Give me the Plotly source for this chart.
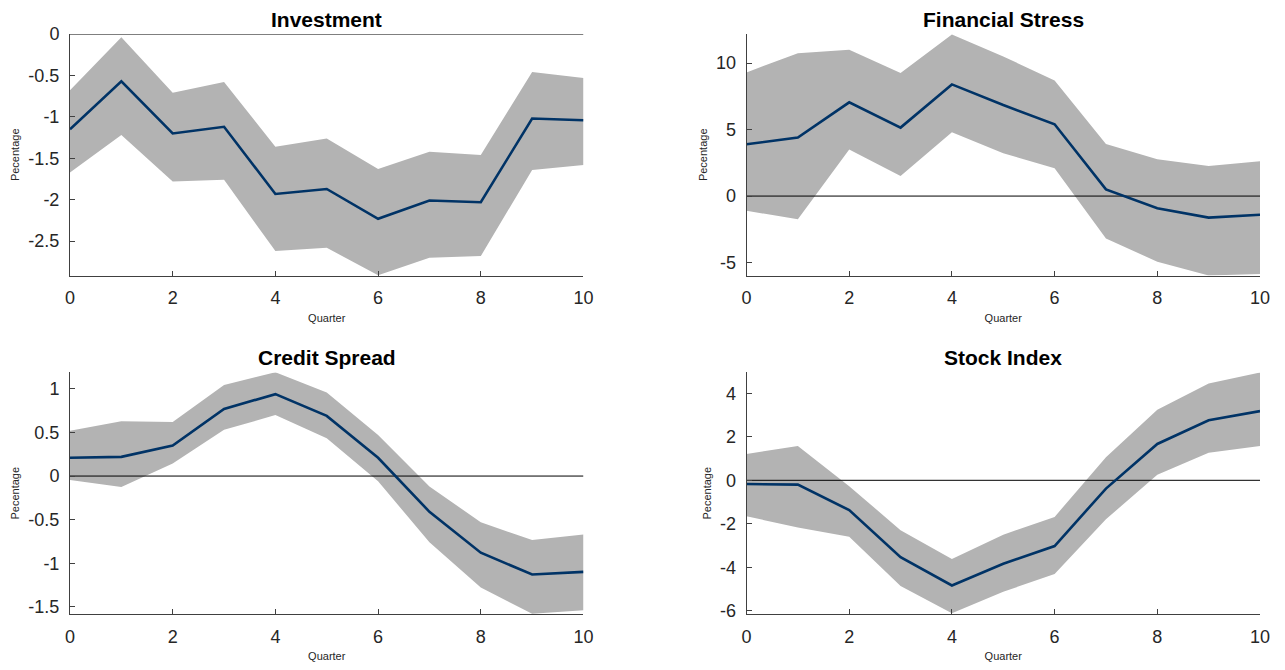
import plotly.graph_objects as go
from plotly.subplots import make_subplots

quarters = list(range(11))

titles = ["Investment", "Financial Stress", "Credit Spread", "Stock Index"]

inv_med = [-1.15, -0.57, -1.20, -1.12, -1.93, -1.87, -2.23, -2.01, -2.03, -1.02, -1.04]
inv_up = [-0.68, -0.04, -0.71, -0.58, -1.36, -1.26, -1.63, -1.42, -1.46, -0.46, -0.53]
inv_lo = [-1.67, -1.22, -1.78, -1.76, -2.62, -2.58, -2.91, -2.70, -2.68, -1.64, -1.58]

fs_med = [3.9, 4.4, 7.05, 5.15, 8.4, 6.85, 5.4, 0.5, -0.92, -1.62, -1.40]
fs_up = [9.3, 10.75, 11.0, 9.25, 12.15, 10.5, 8.7, 3.92, 2.77, 2.27, 2.62]
fs_lo = [-1.10, -1.75, 3.5, 1.5, 4.8, 3.22, 2.09, -3.19, -4.94, -5.98, -5.86]

cs_med = [0.21, 0.22, 0.35, 0.77, 0.94, 0.69, 0.21, -0.41, -0.88, -1.13, -1.10]
cs_up = [0.52, 0.63, 0.62, 1.045, 1.19, 0.96, 0.47, -0.12, -0.53, -0.735, -0.67]
cs_lo = [-0.045, -0.125, 0.145, 0.53, 0.70, 0.435, -0.06, -0.76, -1.28, -1.58, -1.54]

si_med = [-0.17, -0.20, -1.37, -3.53, -4.83, -3.83, -3.02, -0.38, 1.67, 2.76, 3.18]
si_up = [1.21, 1.58, -0.27, -2.29, -3.61, -2.50, -1.68, 1.06, 3.24, 4.45, 4.95]
si_lo = [-1.65, -2.17, -2.59, -4.85, -6.11, -5.12, -4.30, -1.79, 0.26, 1.27, 1.58]

y_ranges = [[-2.915, 0.0], [-5.98, 12.19], [-1.583, 1.189], [-6.14, 4.955]]

y_tickvals = [
    [0, -0.5, -1, -1.5, -2, -2.5],
    [10, 5, 0, -5],
    [1, 0.5, 0, -0.5, -1, -1.5],
    [4, 2, 0, -2, -4, -6],
]
y_ticktext = [
    ["0", "-0.5", "-1", "-1.5", "-2", "-2.5"],
    ["10", "5", "0", "-5"],
    ["1", "0.5", "0", "-0.5", "-1", "-1.5"],
    ["4", "2", "0", "-2", "-4", "-6"],
]
x_tickvals = [0, 2, 4, 6, 8, 10]

series = [
    (inv_med, inv_up, inv_lo),
    (fs_med, fs_up, fs_lo),
    (cs_med, cs_up, cs_lo),
    (si_med, si_up, si_lo),
]

LINE_COLOR = "#003366"
BAND_COLOR = "#b3b3b3"
AXIS_COLOR = "#404040"
TEXT_COLOR = "#262626"
FONT = "Liberation Sans, Arial, sans-serif"

fig = make_subplots(rows=2, cols=2, horizontal_spacing=0.137, vertical_spacing=0.167,
                    subplot_titles=titles)

for i, (med, up, lo) in enumerate(series):
    r, c = i // 2 + 1, i % 2 + 1
    fig.add_trace(go.Scatter(x=quarters, y=lo, mode="lines", line=dict(width=0, color=BAND_COLOR),
                             showlegend=False, hoverinfo="skip"), row=r, col=c)
    fig.add_trace(go.Scatter(x=quarters, y=up, mode="lines", line=dict(width=0, color=BAND_COLOR),
                             fill="tonexty", fillcolor=BAND_COLOR, showlegend=False,
                             hoverinfo="skip"), row=r, col=c)
    fig.add_trace(go.Scatter(x=[quarters[0], quarters[-1]], y=[0, 0], mode="lines",
                             line=dict(width=1, color="black"), showlegend=False,
                             hoverinfo="skip"), row=r, col=c)
    fig.add_trace(go.Scatter(x=quarters, y=med, mode="lines", line=dict(width=2.6, color=LINE_COLOR),
                             showlegend=False), row=r, col=c)
    fig.update_xaxes(range=[0, 10], tickvals=x_tickvals, ticks="inside", ticklen=5,
                     tickcolor=AXIS_COLOR, showline=True, linecolor=AXIS_COLOR, linewidth=1,
                     showgrid=False, zeroline=False, automargin=False, ticklabelstandoff=6,
                     tickfont=dict(size=18, color=TEXT_COLOR, family=FONT),
                     title=dict(text="Quarter", font=dict(size=11, color=TEXT_COLOR, family=FONT), standoff=7),
                     row=r, col=c)
    fig.update_yaxes(range=y_ranges[i], tickvals=y_tickvals[i], ticktext=y_ticktext[i],
                     ticks="inside", ticklen=5, tickcolor=AXIS_COLOR, showline=True,
                     linecolor=AXIS_COLOR, linewidth=1, showgrid=False, zeroline=False,
                     automargin=False, ticklabelstandoff=6,
                     tickfont=dict(size=18, color=TEXT_COLOR, family=FONT),
                     title=dict(text="Pecentage", font=dict(size=11, color=TEXT_COLOR, family=FONT), standoff=6),
                     row=r, col=c)

for ann in fig.layout.annotations:
    ann.font = dict(size=21, color="black", family=FONT)
    ann.text = "<b>" + ann.text + "</b>"
    ann.yshift = 1

fig.update_layout(width=1269, height=654, margin=dict(l=62, r=17, t=26, b=48),
                  plot_bgcolor="white", paper_bgcolor="white", font=dict(family=FONT))

fig.write_html("out.html")
